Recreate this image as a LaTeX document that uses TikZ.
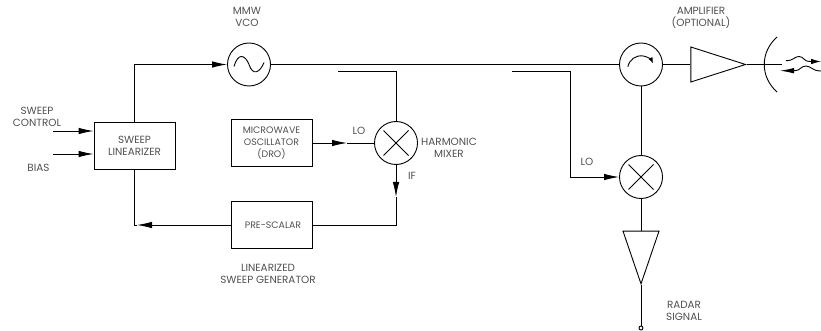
\documentclass[tikz,border=0pt]{standalone}
\usepackage{fontspec}
\setmainfont{Poppins}
\usetikzlibrary{shapes.geometric,arrows.meta,positioning}
\definecolor{LabelGray}{RGB}{80, 80, 80}
\tikzset{
  sig/.style={line width=0.9pt},
  head/.style={-{Latex[length=15pt,width=6.5pt]}},
  lbl/.style={text=LabelGray, font=\fontsize{10.4}{11.6}\selectfont, align=center, inner sep=0pt},
  block/.style={draw, sig, rectangle, minimum width=81pt, minimum height=47.5pt, inner sep=0pt, lbl},
  ring/.style={draw, sig, circle, minimum size=43pt, inner sep=0pt},
  mixer/.style={ring, path picture={
    \draw[sig] ([shift={(-12.5pt,-12.5pt)}]path picture bounding box.center) -- ([shift={(12.5pt,12.5pt)}]path picture bounding box.center);
    \draw[sig] ([shift={(-12.5pt,12.5pt)}]path picture bounding box.center) -- ([shift={(12.5pt,-12.5pt)}]path picture bounding box.center);
  }},
  amp/.style={draw, sig, isosceles triangle, isosceles triangle stretches, minimum width=35pt, minimum height=54.7pt, inner sep=0pt},
}
\begin{document}
\begin{tikzpicture}[x=1pt,y=-1pt]
    \useasboundingbox (0,0) rectangle (821,331);

    % Sweep generator blocks
    \node[block] (lin) at (134.5,146) {SWEEP\\LINEARIZER};
    \node[block, font=\fontsize{9.4}{11.6}\selectfont] (dro) at (271.5,143) {MICROWAVE\\OSCILLATOR\\(DRO)};
    \node[block, font=\fontsize{9.4}{11.6}\selectfont] (pre) at (271.5,225) {\hspace*{3pt}PRE-SCALAR};
    \node[ring] (vco) at (249,64.5) {};
    \node[mixer] (hmix) at (396,143) {};
    \draw[sig] (vco.center) ++(-15,2) .. controls +(4,-14) and +(-4,-10) .. ++(15,-2)
      .. controls +(4,12) and +(-4,10) .. ++(15,-2);

    % Receive side
    \node[ring] (circ) at (641,64.5) {};
    \node[mixer] (rmix) at (641,177) {};
    \draw[sig, -{Latex[length=6pt,width=4.5pt]}] (circ.center) ++(-13.1,2.3) arc[start angle=190, end angle=335, radius=13.3];
    \node[amp, anchor=apex] (txamp) at (746.7,64.5) {};
    \node[amp, minimum width=36pt, minimum height=52.7pt, shape border rotate=-90, anchor=apex] (rxamp) at (641,285) {};
    \node[draw, sig, circle, minimum size=4pt, inner sep=0pt] (out) at (641,328) {};

    % Free ends
    \coordinate (ctl) at (53,131);
    \coordinate (bias) at (53,154);
    \coordinate (tapa) at (338,71);
    \coordinate (tapb) at (512,71);
    \coordinate (rturn) at (570,177);
    \coordinate (lomid) at (347,143);
    \coordinate (ifmid) at (396,197);
    \coordinate (backmid) at (137,225);
    \coordinate (feed) at (782,64.5);

    % Connectors
    \draw[sig, head] (ctl) -- (ctl -| lin.west);
    \draw[sig, head] (bias) -- (bias -| lin.west);
    \draw[sig, head] (lin.north) |- (vco.west);
    \draw[sig] (vco.east) -- (circ.west);
    \draw[sig] (tapa) -| (hmix.north);
    \draw[sig, head] (dro.east) -- (lomid);
    \draw[sig] (lomid) -- (hmix.west);
    \draw[sig, head] (hmix.south) -- (ifmid);
    \draw[sig] (ifmid) |- (pre.east);
    \draw[sig, head] (pre.west) -- (backmid);
    \draw[sig] (backmid) -| (lin.south);
    \draw[sig, head] (tapb) -| (rturn) -- (rmix.west);
    \draw[sig] (circ.south) -- (rmix.north);
    \draw[sig] (circ.east) -- (txamp.lower side);
    \draw[sig] (txamp.apex) -- (feed);
    \draw[sig] (rmix.south) -- (rxamp.lower side);
    \draw[sig] (rxamp.apex) -- (out.north);

    % Dish and waves
    \draw[sig] (777,37) .. controls (760,52) and (760,77) .. (777,92);
    \draw[sig, -{Latex[length=10pt,width=5.5pt]}] (786,60.7) .. controls (794,60.7) and (794,56.5) .. (799,56.5)
      .. controls (804,56.5) and (804,62) .. (810,61.5) -- (821,61.5);
    \draw[sig, -{Latex[length=14pt,width=5.5pt]}] (821,71) .. controls (812,71) and (811,66) .. (806,66)
      .. controls (801,66) and (800,70.7) .. (795,70.7) -- (780,70.7);

    % Labels
    \node[lbl] (vcolbl) at (247,17) {MMW\\VCO};
    \node[lbl] (ctllbl) at (37,117) {SWEEP\\CONTROL};
    \node[lbl] (biaslbl) at (38.5,168) {BIAS};
    \node[lbl] (lolbl) at (359,131) {LO};
    \node[lbl] (iflbl) at (412,176) {IF};
    \node[lbl] (hmixlbl) at (449,148) {HARMONIC\\MIXER};
    \node[lbl] (genlbl) at (268,274) {LINEARIZED\\SWEEP GENERATOR};
    \node[lbl] (amplbl) at (701,18) {AMPLIFIER\\(OPTIONAL)};
    \node[lbl] (rlolbl) at (587,162) {LO};
    \node[lbl] (radarlbl) at (684,311) {RADAR\\SIGNAL};
\end{tikzpicture}
\end{document}
